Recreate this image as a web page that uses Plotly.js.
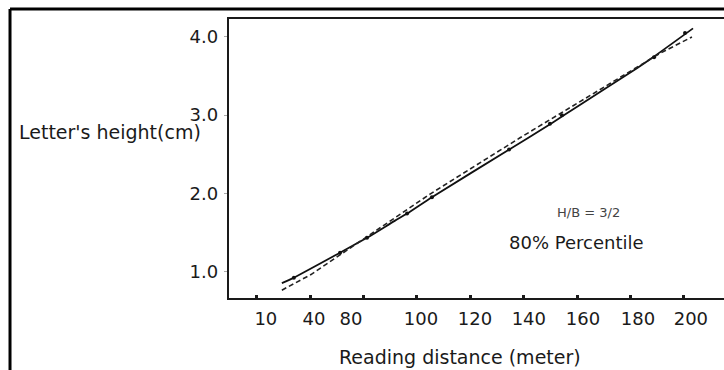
<!DOCTYPE html>
<html>
<head>
<meta charset="utf-8">
<script src="https://cdn.plot.ly/plotly-3.0.1.min.js"></script>
<style>
  html, body { margin: 0; padding: 0; background: #fff; }
  #chart { width: 724px; height: 370px; }
</style>
</head>
<body>
<div id="chart"></div>
<script>
// Reading distance (m) and letter height (cm)
const curveX = [49.4, 53.9, 71.2, 81.3, 91.8, 96.3, 105.6, 134.1, 150.6, 161.0, 182.4, 188.4, 203.4];
const curveY = [0.85, 0.92, 1.24, 1.43, 1.65, 1.74, 1.95, 2.55, 2.90, 3.13, 3.60, 3.74, 4.11];

const fitX = [49.4, 60.3, 104.9, 138.6, 191.0, 203.0];
const fitY = [0.76, 0.96, 1.99, 2.71, 3.79, 4.00];

const pointX = [53.9, 71.2, 81.3, 96.3, 105.6, 134.5, 149.8, 154.3, 188.8, 200.4];
const pointY = [0.92, 1.24, 1.43, 1.74, 1.95, 2.56, 2.89, 3.00, 3.74, 4.05];

// x tick labels as printed (positions of the printed labels on the distance axis)
const xTickVals = [43.4, 61.4, 75.3, 101.5, 121.7, 141.9, 162.2, 182.8, 202.6];
const xTickText = ['10', '40', '80', '100', '120', '140', '160', '180', '200'];
const yTickVals = [1, 2, 3, 4];
const yTickText = ['1.0', '2.0', '3.0', '4.0'];

const FONT = '"DejaVu Sans", "Open Sans", sans-serif';
const TXT = '#1a1a1a';

const traces = [
  {
    x: curveX, y: curveY, mode: 'lines', type: 'scatter',
    line: { color: '#111', width: 1.8, shape: 'spline', smoothing: 0.6 },
    hoverinfo: 'skip'
  },
  {
    x: fitX, y: fitY, mode: 'lines', type: 'scatter',
    line: { color: '#222', width: 1.6, dash: '5px,3px' },
    hoverinfo: 'skip'
  },
  {
    x: pointX, y: pointY, mode: 'markers', type: 'scatter',
    marker: { color: '#111', size: 4 },
    hoverinfo: 'skip'
  }
];

const layout = {
  width: 724, height: 370,
  margin: { l: 229, r: 0, t: 19, b: 72, pad: 0 },
  paper_bgcolor: '#fff', plot_bgcolor: '#fff',
  showlegend: false,
  font: { family: FONT, size: 19, color: TXT },
  xaxis: {
    range: [29.6, 215],
    showgrid: false, zeroline: false,
    showline: true, linecolor: '#1a1a1a', linewidth: 1.6, mirror: true,
    tickmode: 'array', tickvals: xTickVals, ticktext: xTickText,
    ticks: '', ticklabelstandoff: 4,
    tickfont: { family: FONT, size: 18, color: TXT },
    minor: { tickmode: 'linear', tick0: 40, dtick: 20, ticks: 'inside', ticklen: 3, tickwidth: 3, tickcolor: '#1a1a1a', showgrid: false }
  },
  yaxis: {
    range: [0.66, 4.23],
    showgrid: false, zeroline: false,
    showline: true, linecolor: '#1a1a1a', linewidth: 2.2, mirror: false,
    tickmode: 'array', tickvals: yTickVals, ticktext: yTickText,
    ticks: 'outside', ticklen: 3, tickwidth: 1, tickcolor: '#aaa',
    ticklabelstandoff: 2,
    tickfont: { family: FONT, size: 18, color: TXT }
  },
  annotations: [
    { text: "Letter's height(cm)", xref: 'paper', yref: 'paper', x: -0.428, y: 0.595,
      xanchor: 'left', yanchor: 'middle', showarrow: false, font: { family: FONT, size: 19, color: TXT } },
    { text: 'Reading distance (meter)', xref: 'paper', yref: 'paper', x: 0.467, y: -0.211,
      xanchor: 'center', yanchor: 'middle', showarrow: false, font: { family: FONT, size: 19, color: TXT } },
    { text: 'H/B = 3/2', xref: 'paper', yref: 'paper', x: 0.727, y: 0.308,
      xanchor: 'center', yanchor: 'middle', showarrow: false, font: { family: FONT, size: 13, color: '#444' } },
    { text: '80% Percentile', xref: 'paper', yref: 'paper', x: 0.703, y: 0.2007,
      xanchor: 'center', yanchor: 'middle', showarrow: false, font: { family: FONT, size: 18, color: TXT } }
  ],
  shapes: [
    { type: 'line', xref: 'paper', yref: 'paper', x0: -0.4424, x1: 1.01, y0: 1.0358, y1: 1.0358,
      line: { color: '#000', width: 3 } },
    { type: 'line', xref: 'paper', yref: 'paper', x0: -0.4424, x1: -0.4424, y0: 1.0358, y1: -0.27,
      line: { color: '#000', width: 3 } }
  ]
};

Plotly.newPlot('chart', traces, layout, { staticPlot: true, displayModeBar: false });
</script>
</body>
</html>
